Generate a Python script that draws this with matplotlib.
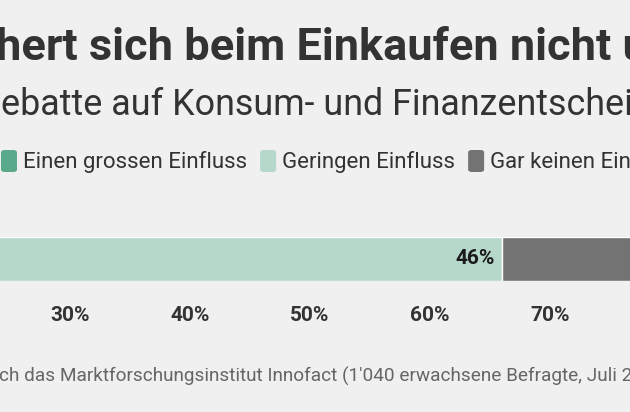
import matplotlib
matplotlib.use("Agg")
import matplotlib.pyplot as plt
from matplotlib.patches import FancyBboxPatch
from matplotlib.transforms import blended_transform_factory

plt.rcParams["font.family"] = ["Roboto", "DejaVu Sans"]

# data
categories = ["Einen grossen Einfluss", "Geringen Einfluss", "Gar keinen Einfluss"]
values = [20, 46, 34]
colors = ["#5aa98a", "#b5d8ca", "#737373"]
label_colors = ["#ffffff", "#1a1a1a", "#ffffff"]
ticks = [0, 10, 20, 30, 40, 50, 60, 70, 80, 90, 100]
tick_labels = [f"{t}%" for t in ticks]

title = "hert sich beim Einkaufen nicht um Nachhaltigkeit"
subtitle = "ebatte auf Konsum- und Finanzentscheidungen"
footnote = "ch das Marktforschungsinstitut Innofact (1'040 erwachsene Befragte, Juli 2019)"

W, H = 630, 412
bg = "#f0f0f0"
fig = plt.figure(figsize=(W / 100, H / 100), dpi=100, facecolor=bg)


def fx(px):
    return px / W


def fy(py):
    return 1 - py / H


# header (the graphic is cropped on both sides)
fig.text(fx(-4), fy(60), title, fontsize=32.5, fontweight="bold", color="#333333",
         ha="left", va="baseline")
fig.text(fx(1), fy(115), subtitle, fontsize=25.8, color="#333333",
         ha="left", va="baseline")

# legend
renderer = fig.canvas.get_renderer()
x = 1
for cat, col in zip(categories, colors):
    box = FancyBboxPatch((fx(x), fy(172)), fx(16), 22 / H,
                         boxstyle="round,pad=0,rounding_size=0.006",
                         transform=fig.transFigure, facecolor=col, edgecolor="none")
    fig.patches.append(box)
    t = fig.text(fx(x + 22), fy(168), cat, fontsize=16, color="#333333",
                 ha="left", va="baseline")
    w = t.get_window_extent(renderer).width
    x = x + 22 + w + 13

# bar axis: 0..100 % spans -290 px .. 910 px
ax = fig.add_axes([fx(-290), fy(281), 1200 / W, 44 / H])
ax.set_facecolor("none")
left = 0
for v, col, lc in zip(values, colors, label_colors):
    ax.barh(0, v, left=left, height=1, color=col, edgecolor="white", linewidth=1)
    ax.annotate(f"{v}%", xy=(left + v, 0), xytext=(-5, 0), textcoords="offset points",
                ha="right", va="center", fontsize=15, fontweight="bold", color=lc)
    left += v
ax.set_xlim(0, 100)
ax.set_ylim(-0.5, 0.5)
ax.axis("off")

trans = blended_transform_factory(ax.transData, fig.transFigure)
for t, lab in zip(ticks, tick_labels):
    ax.text(t, fy(321), lab, transform=trans, ha="center", va="baseline",
            fontsize=15, fontweight="bold", color="#333333", clip_on=False)

fig.text(fx(-1), fy(382), footnote, fontsize=13.7, color="#666666",
         ha="left", va="baseline")

fig.savefig("out.png", dpi=100, facecolor=bg)
